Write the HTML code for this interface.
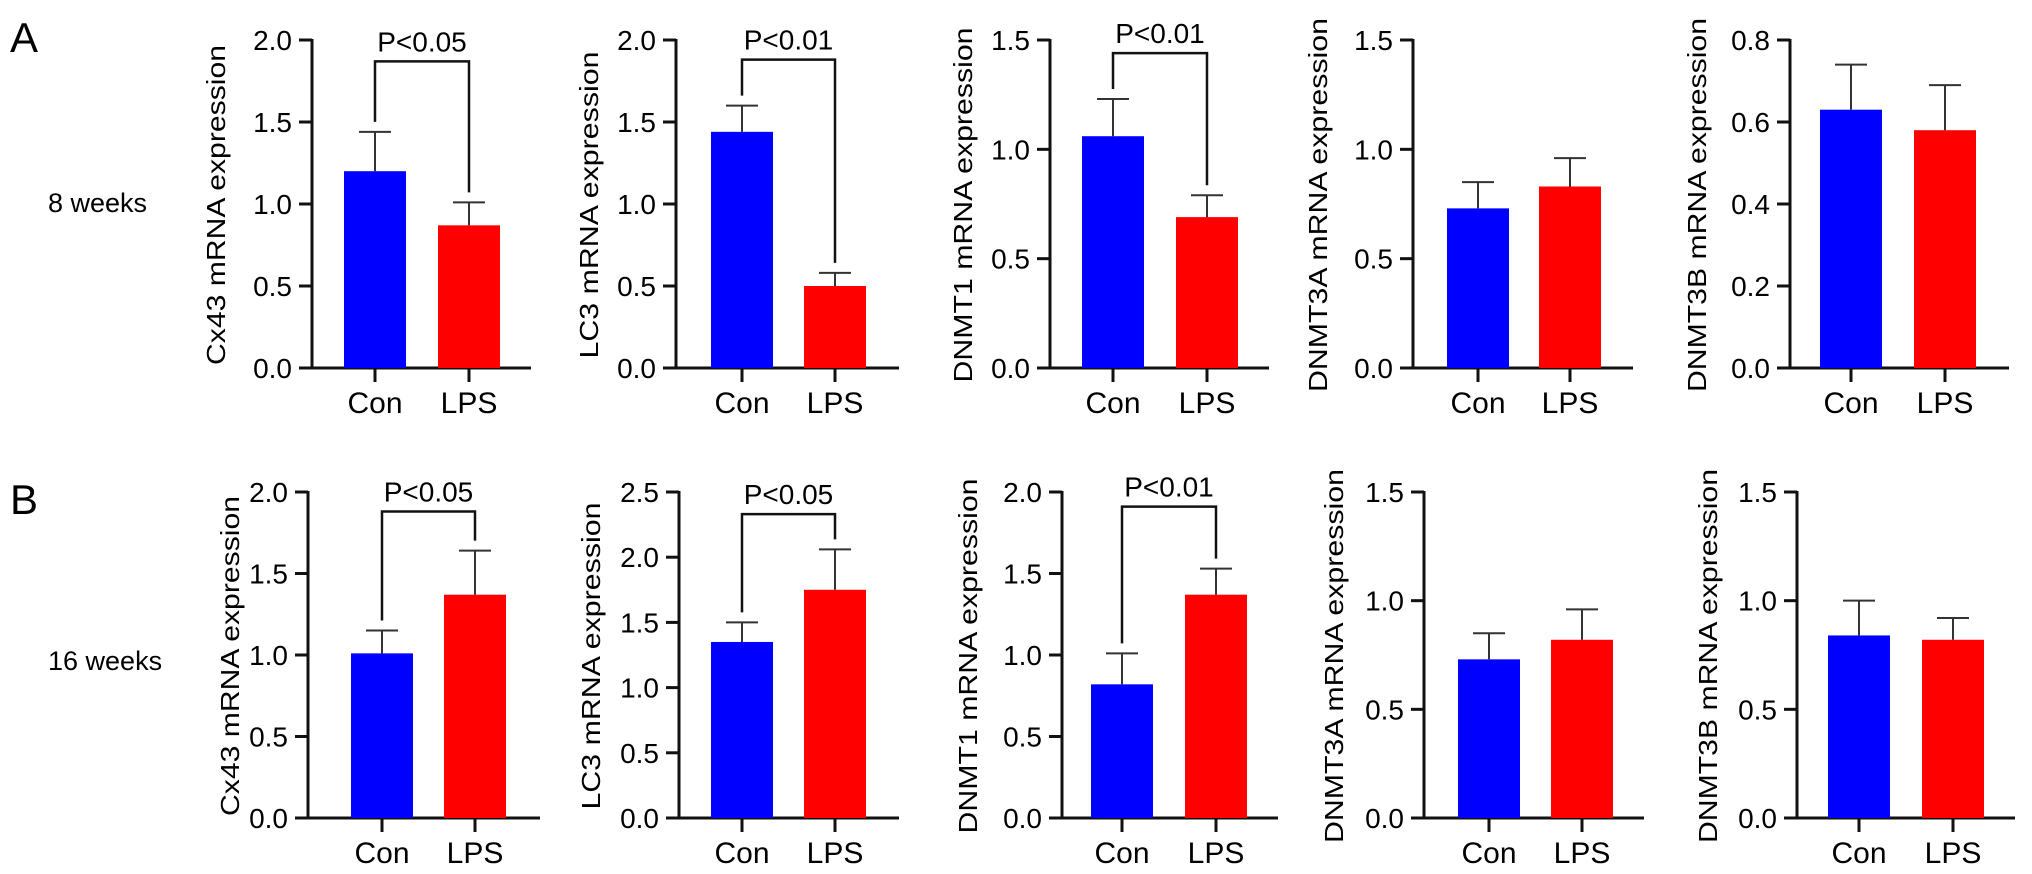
<!DOCTYPE html>
<html><head><meta charset="utf-8"><style>
body{margin:0;background:#fff;}
svg{display:block;font-family:"Liberation Sans",Arial,sans-serif;}
</style></head><body>
<svg id="c" width="2032" height="874">
<text x="10" y="52" font-size="42">A</text>
<text x="10" y="514" font-size="42">B</text>
<text x="48" y="212" font-size="27">8 weeks</text>
<text x="48" y="670" font-size="27">16 weeks</text>
</svg>
<script>
const genes=["Cx43","LC3","DNMT1","DNMT3A","DNMT3B"];
const categories=["Con","LPS"];
const rowAMax=[2.0,2.0,1.5,1.5,0.8];
const rowAStep=[0.5,0.5,0.5,0.5,0.2];
const rowAMean=[[1.20,0.87],[1.44,0.50],[1.06,0.69],[0.73,0.83],[0.63,0.58]];
const rowAErr=[[1.44,1.01],[1.60,0.58],[1.23,0.79],[0.85,0.96],[0.74,0.69]];
const rowAP=["P<0.05","P<0.01","P<0.01",null,null];
const rowABracket=[1.87,1.88,1.44,null,null];
const rowBMax=[2.0,2.5,2.0,1.5,1.5];
const rowBStep=[0.5,0.5,0.5,0.5,0.5];
const rowBMean=[[1.01,1.37],[1.35,1.75],[0.82,1.37],[0.73,0.82],[0.84,0.82]];
const rowBErr=[[1.15,1.64],[1.50,2.06],[1.01,1.53],[0.85,0.96],[1.0,0.92]];
const rowBP=["P<0.05","P<0.05","P<0.01",null,null];
const rowBBracket=[1.88,2.33,1.91,null,null];

const svg=document.getElementById('c');
const NS="http://www.w3.org/2000/svg";
function mk(tag,attrs,parent){const e=document.createElementNS(NS,tag);for(const k in attrs)e.setAttribute(k,attrs[k]);(parent||svg).appendChild(e);return e;}
const titleLen=[320,307,355,374,374];
const rows=[
 {top:40,bot:368,ax:[312,676,1050,1413,1790],con:[375,742,1113,1478,1851],lps:[469,835,1207,1570,1945],end:[531,899,1269,1633,2009],tx:[216,589,963,1318,1697],ty:205,
  max:rowAMax,step:rowAStep,mean:rowAMean,err:rowAErr,p:rowAP,br:rowABracket,id:"a"},
 {top:492,bot:818,ax:[308,679,1062,1424,1797],con:[382,742,1122,1489,1859],lps:[475,835,1216,1582,1953],end:[540,899,1278,1644,2015],tx:[230,591,968,1334,1708],ty:656,
  max:rowBMax,step:rowBStep,mean:rowBMean,err:rowBErr,p:rowBP,br:rowBBracket,id:"b"}];
rows.forEach(r=>{
 for(let i=0;i<5;i++){
  const g=mk('g',{});
  
  
  const y=v=>r.bot-(v/r.max[i])*(r.bot-r.top);
  const ax=r.ax[i];
  mk('line',{x1:ax,y1:r.top-1,x2:ax,y2:r.bot,stroke:'#111','stroke-width':3},g);
  mk('line',{x1:ax,y1:r.bot,x2:r.end[i],y2:r.bot,stroke:'#111','stroke-width':3},g);
  const n=Math.round(r.max[i]/r.step[i]);
  for(let k=0;k<=n;k++){
   const v=k*r.step[i];const yy=y(v);
   mk('line',{x1:ax-13,y1:yy,x2:ax,y2:yy,stroke:'#111','stroke-width':3},g);
   const t=mk('text',{x:ax-20,y:yy+10,'font-size':28,'text-anchor':'end'},g);
   t.textContent=v.toFixed(1);
   
   
  }
  const tt=mk('text',{transform:`translate(${r.tx[i]+9},${r.ty}) rotate(-90)`,'font-size':26,'text-anchor':'middle',textLength:titleLen[i],lengthAdjust:'spacingAndGlyphs'},g);
  tt.textContent=genes[i]+" mRNA expression";
  
  
  const cx=[r.con[i],r.lps[i]];
  const cols=['#0000ff','#ff0000'];
  for(let j=0;j<2;j++){
   const w=62;
   const b=mk('rect',{x:cx[j]-w/2,y:y(r.mean[i][j]),width:w,height:r.bot-y(r.mean[i][j]),fill:cols[j]},g);
   
   
   mk('line',{x1:cx[j],y1:y(r.mean[i][j]),x2:cx[j],y2:y(r.err[i][j]),stroke:'#333','stroke-width':2},g);
   mk('line',{x1:cx[j]-16,y1:y(r.err[i][j]),x2:cx[j]+16,y2:y(r.err[i][j]),stroke:'#333','stroke-width':2},g);
   mk('line',{x1:cx[j],y1:r.bot,x2:cx[j],y2:r.bot+14,stroke:'#111','stroke-width':3},g);
   const l=mk('text',{x:cx[j],y:r.bot+45,'font-size':30,'text-anchor':'middle'},g);
   l.textContent=categories[j];
   
   
  }
  if(r.p[i]){
   const by=y(r.br[i]);
   const lc=y(r.err[i][0])-10, ll=y(r.err[i][1])-10;
   const p=mk('path',{d:`M${cx[0]},${lc} V${by} H${cx[1]} V${ll}`,fill:'none',stroke:'#111','stroke-width':2.5},g);
   
   
   const pt=mk('text',{x:(cx[0]+cx[1])/2,y:by-10,'font-size':28,'text-anchor':'middle'},g);
   pt.textContent=r.p[i];
   
   
  }
 }
});
</script>
</body></html>
